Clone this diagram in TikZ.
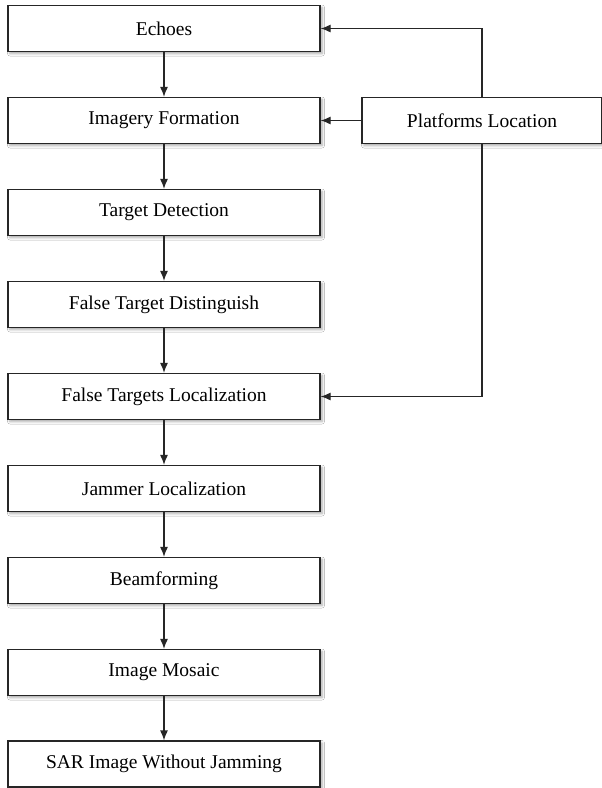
\documentclass[tikz,border=0pt]{standalone}
\usepackage{fontspec}
\setmainfont{Liberation Serif}
\usetikzlibrary{arrows.meta,shadows.blur}
\begin{document}
\begin{tikzpicture}[x=1pt,y=-1pt,
  box/.style={draw=black!85,line width=1.2pt,fill=white,minimum width=312pt,minimum height=46pt,
    inner sep=0pt,font=\fontsize{19.5}{22}\selectfont,
    blur shadow={shadow xshift=2pt,shadow yshift=-2pt,shadow blur radius=2.5pt,shadow opacity=35}},
  sidebox/.style={box,minimum width=240pt},
  link/.style={line width=1.2pt,draw=black!85,-{Latex[length=10pt,width=8pt]}}]
\useasboundingbox (0,0) rectangle (602,788);
\fill[white] (0,0) rectangle (602,788);
\node[box] (echo) at (164,28.5) {Echoes};
\node[box] (img) at (164,120.5) {Imagery Formation};
\node[box] (det) at (164,212.5) {Target Detection};
\node[box] (dist) at (164,304.5) {False Target Distinguish};
\node[box] (ftl) at (164,396.5) {False Targets Localization};
\node[box] (jam) at (164,488.5) {Jammer Localization};
\node[box] (beam) at (164,580.5) {Beamforming};
\node[box] (mos) at (164,672.5) {Image Mosaic};
\node[box] (sar) at (164,764) {SAR Image Without Jamming};
\node[sidebox] (plat) at (482,120.5) {Platforms Location};
\draw[link] (echo) -- (img);
\draw[link] (img) -- (det);
\draw[link] (det) -- (dist);
\draw[link] (dist) -- (ftl);
\draw[link] (ftl) -- (jam);
\draw[link] (jam) -- (beam);
\draw[link] (beam) -- (mos);
\draw[link] (mos) -- (sar);
\draw[link] (plat) -- (img);
\draw[link] (plat.north) |- (echo.east);
\draw[link] (plat.south) |- (ftl.east);
\end{tikzpicture}
\end{document}
